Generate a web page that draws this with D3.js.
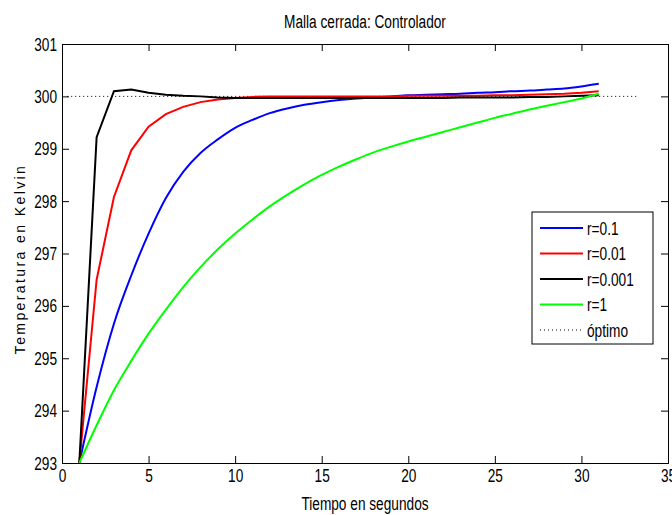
<!DOCTYPE html>
<html>
<head>
<meta charset="utf-8">
<script src="https://cdn.jsdelivr.net/npm/d3@7"></script>
<style>
  body { margin: 0; background: #fff; }
  text { font-family: "Liberation Sans", Arial, sans-serif; fill: #000; }
</style>
</head>
<body>
<div id="chart"></div>
<script>
// Datos (tiempo en segundos, temperatura en Kelvin)
const tiempo = d3.range(1, 32);
const serieR01 = [293, 294.45, 295.66, 296.58, 297.38, 298.06, 298.56, 298.92, 299.18, 299.4,
  299.55, 299.68, 299.77, 299.84, 299.89, 299.93, 299.96, 299.98, 300.0, 300.02,
  300.03, 300.04, 300.05, 300.07, 300.08, 300.1, 300.11, 300.13, 300.15, 300.19, 300.24];
const serieR001 = [293, 296.5, 298.08, 298.97, 299.42, 299.66, 299.8, 299.89, 299.94, 299.97,
  299.99, 300.0, 300.0, 300.0, 300.0, 300.0, 300.0, 300.0, 300.0, 300.01,
  300.01, 300.01, 300.01, 300.01, 300.02, 300.02, 300.03, 300.04, 300.05, 300.07, 300.1];
const serieR0001 = [293, 299.22, 300.1, 300.13, 300.07, 300.03, 300.01, 300.0, 299.98, 299.97,
  299.97, 299.97, 299.97, 299.97, 299.97, 299.97, 299.97, 299.97, 299.97, 299.97,
  299.97, 299.97, 299.98, 299.98, 299.98, 299.98, 299.99, 299.99, 300.0, 300.01, 300.02];
const serieR1 = [293, 293.72, 294.39, 294.95, 295.47, 295.93, 296.36, 296.74, 297.08, 297.38,
  297.65, 297.9, 298.12, 298.32, 298.5, 298.66, 298.8, 298.93, 299.04, 299.14,
  299.23, 299.32, 299.41, 299.5, 299.59, 299.67, 299.75, 299.82, 299.89, 299.96, 300.05];
const optimoT = [0.3, 33.2];
const optimoV = [300, 300];
const xTicks = [0, 5, 10, 15, 20, 25, 30, 35];
const yTicks = [293, 294, 295, 296, 297, 298, 299, 300, 301];

const series = [
  { label: "r=0.1", color: "#0000ff", values: serieR01, curve: d3.curveMonotoneX },
  { label: "r=0.01", color: "#ff0000", values: serieR001, curve: d3.curveLinear },
  { label: "r=0.001", color: "#000000", values: serieR0001, curve: d3.curveLinear },
  { label: "r=1", color: "#00ff00", values: serieR1, curve: d3.curveMonotoneX }
];

const width = 672, height = 515;
const margin = { top: 44, right: 4, bottom: 52, left: 62 };
const innerW = width - margin.left - margin.right;
const innerH = height - margin.top - margin.bottom;

// texto estrecho, como el de MATLAB
const sx = 0.72;
function estrecho(sel) {
  sel.each(function() {
    const t = d3.select(this);
    const x0 = +t.attr("x") || 0;
    t.attr("x", x0 / sx).attr("transform", `scale(${sx},1)`);
  });
}

const svg = d3.select("#chart").append("svg")
  .attr("width", width)
  .attr("height", height);

const g = svg.append("g")
  .attr("transform", `translate(${margin.left},${margin.top})`);

const x = d3.scaleLinear().domain([0, 35]).range([0, innerW]);
const y = d3.scaleLinear().domain([293, 301]).range([innerH, 0]);

g.append("clipPath").attr("id", "clip")
  .append("rect").attr("width", innerW).attr("height", innerH);

// Ejes con marcas hacia dentro
const tick = 7;
g.append("g").attr("transform", `translate(0,${innerH})`)
  .call(d3.axisBottom(x).tickValues(xTicks).tickSize(-tick).tickPadding(5))
  .call(a => a.selectAll("text").attr("font-size", 19).attr("dy", "0.72em").call(estrecho));
g.append("g")
  .call(d3.axisTop(x).tickValues(xTicks).tickSize(-tick).tickFormat(""));
g.append("g")
  .call(d3.axisLeft(y).tickValues(yTicks).tickSize(-tick).tickPadding(5))
  .call(a => a.selectAll("text").attr("font-size", 19).call(estrecho));
g.append("g").attr("transform", `translate(${innerW},0)`)
  .call(d3.axisRight(y).tickValues(yTicks).tickSize(-tick).tickFormat(""));
g.selectAll(".domain, .tick line").attr("stroke", "#000");

const plot = g.append("g").attr("clip-path", "url(#clip)");

plot.append("path")
  .datum(optimoV)
  .attr("fill", "none")
  .attr("stroke", "#000")
  .attr("stroke-width", 1)
  .attr("stroke-dasharray", "1,3")
  .attr("d", d3.line().x((d, i) => x(optimoT[i])).y(d => y(d)));

series.forEach(s => {
  const line = d3.line()
    .curve(s.curve)
    .x((d, i) => x(tiempo[i]))
    .y(d => y(d));
  plot.append("path")
    .datum(s.values)
    .attr("fill", "none")
    .attr("stroke", s.color)
    .attr("stroke-width", 2)
    .attr("d", line);
});

// Título y etiquetas
svg.append("text")
  .attr("x", margin.left + innerW / 2).attr("y", 28)
  .attr("text-anchor", "middle").attr("font-size", 19)
  .text("Malla cerrada: Controlador")
  .call(estrecho);
svg.append("text")
  .attr("x", margin.left + innerW / 2).attr("y", 510)
  .attr("text-anchor", "middle").attr("font-size", 19)
  .text("Tiempo en segundos")
  .call(estrecho);
svg.append("text")
  .attr("transform", `translate(25,259) rotate(-90)`)
  .attr("text-anchor", "middle").attr("font-size", 14)
  .attr("letter-spacing", 2.4)
  .text("Temperatura en Kelvin");

// Leyenda
const leg = svg.append("g").attr("transform", "translate(532,212)");
leg.append("rect").attr("width", 121).attr("height", 132)
  .attr("fill", "#fff").attr("stroke", "#000");
const items = series.map(s => ({ label: s.label, color: s.color, dash: null }))
  .concat([{ label: "óptimo", color: "#000", dash: "1,3" }]);
items.forEach((it, i) => {
  const yy = 16 + i * 25.5;
  leg.append("line")
    .attr("x1", 8).attr("x2", 51).attr("y1", yy).attr("y2", yy)
    .attr("stroke", it.color)
    .attr("stroke-width", it.dash ? 1 : 2)
    .attr("stroke-dasharray", it.dash);
  leg.append("text")
    .attr("x", 55).attr("y", yy).attr("dy", "0.36em")
    .attr("font-size", 19)
    .text(it.label)
    .call(estrecho);
});
</script>
</body>
</html>
